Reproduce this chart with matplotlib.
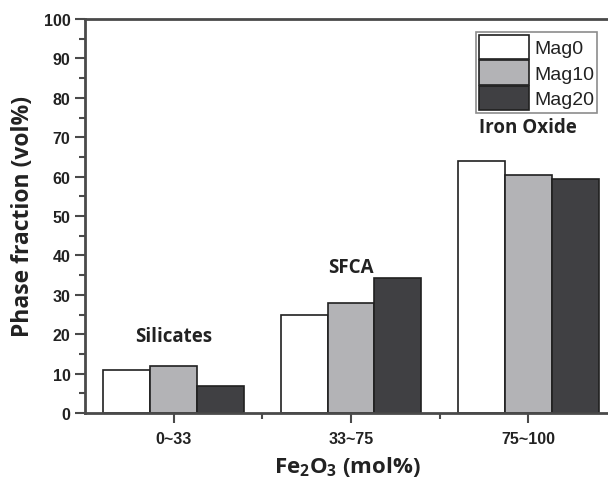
import matplotlib.pyplot as plt
import numpy as np
from matplotlib.ticker import MultipleLocator, FixedLocator

categories = ["0~33", "33~75", "75~100"]
series = ["Mag0", "Mag10", "Mag20"]
mag0 = [11.0, 25.0, 64.0]
mag10 = [11.9, 28.0, 60.4]
mag20 = [6.8, 34.2, 59.3]
phase_names = ["Silicates", "SFCA", "Iron Oxide"]
phase_label_y = [19.5, 37, 72.5]

colors = ["#ffffff", "#b3b3b6", "#404043"]
edge = "#202020"
axis_c = "#4a4a4a"
bold_font = "Open Sans"

plt.rcParams["mathtext.fontset"] = "custom"
plt.rcParams["mathtext.rm"] = "Open Sans:bold"
plt.rcParams["mathtext.it"] = "Open Sans:bold"

fig = plt.figure(figsize=(6.08, 4.81), dpi=100)
ax = fig.add_axes([85 / 608, 1 - 414 / 481, 532 / 608, 394 / 481])

x = np.arange(len(categories))
w = 0.265
for i, (vals, c, name) in enumerate(zip([mag0, mag10, mag20], colors, series)):
    ax.bar(x + (i - 1) * w, vals, width=w, color=c, edgecolor=edge,
           linewidth=1.2, label=name)

for xi, name, yy in zip(x, phase_names, phase_label_y):
    ax.text(xi, yy, name, ha="center", va="center", fontsize=13.5,
            fontweight="bold", family=bold_font, color="#222222")

ax.set_xlim(-0.5, 2.5)
ax.set_ylim(0, 100)
ax.set_xticks(x)
ax.set_xticklabels(categories)
ax.xaxis.set_minor_locator(FixedLocator([0.5, 1.5]))
ax.yaxis.set_major_locator(MultipleLocator(10))
ax.yaxis.set_minor_locator(MultipleLocator(5))

for s in ax.spines.values():
    s.set_color(axis_c)
    s.set_linewidth(2)

ax.tick_params(axis="both", which="major", direction="out", length=7,
               width=1.5, color=axis_c, labelsize=11.5, labelcolor="#222222")
ax.tick_params(axis="both", which="minor", direction="out", length=4,
               width=1.5, color=axis_c)
ax.tick_params(axis="x", which="major", pad=6)
for lbl in ax.get_xticklabels() + ax.get_yticklabels():
    lbl.set_fontweight("bold")
    lbl.set_family("Liberation Sans")

ax.set_ylabel("Phase fraction (vol%)", fontsize=16.5, fontweight="bold",
              family=bold_font, color="#222222", labelpad=6)
fig.text(347 / 608, 1 - 467 / 481, "Fe$_2$O$_3$ (mol%)", ha="center",
         va="center", fontsize=16, fontweight="bold", family=bold_font,
         color="#222222")

leg = ax.legend(loc="upper right",
                bbox_to_anchor=((597 - 85) / 532, 1 - 13 / 394),
                fontsize=14, frameon=True, fancybox=False, borderpad=0.15,
                handlelength=2.6, handleheight=1.55, handletextpad=0.25,
                labelspacing=0.05, borderaxespad=0)
leg.get_frame().set_edgecolor("#707070")
leg.get_frame().set_linewidth(1.2)
for t in leg.get_texts():
    t.set_family("Liberation Sans")
    t.set_color("#222222")

fig.savefig("out.png", dpi=100)
